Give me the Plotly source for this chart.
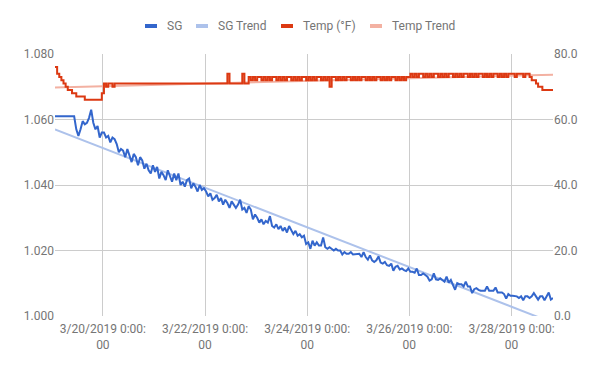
import pandas as pd
import plotly.graph_objects as go

# ---------------- data ----------------
start_time = "2019-03-19 01:30"   # first reading, hourly readings after that

sg = [
    1.0610, 1.0610, 1.0610, 1.0610, 1.0610, 1.0610, 1.0610, 1.0610, 1.0610, 1.0610,
    1.0570, 1.0550, 1.0570, 1.0595, 1.0585, 1.0590, 1.0605, 1.0630, 1.0590, 1.0570,
    1.0580, 1.0545, 1.0560,
    1.0560, 1.0545, 1.0550, 1.0530, 1.0545, 1.0540,
    1.0525, 1.0500, 1.0510, 1.0505, 1.0485, 1.0510, 1.0490, 1.0470, 1.0495, 1.0485,
    1.0460, 1.0485, 1.0475, 1.0450,
    1.0465, 1.0445, 1.0435, 1.0460, 1.0440, 1.0455, 1.0420, 1.0440, 1.0430, 1.0415,
    1.0445, 1.0425, 1.0410, 1.0435,
    1.0415, 1.0435, 1.0400, 1.0410, 1.0395, 1.0415, 1.0420, 1.0390, 1.0405, 1.0395,
    1.0380, 1.0400, 1.0385, 1.0390,
    1.0380, 1.0365, 1.0375, 1.0355, 1.0360, 1.0370, 1.0350, 1.0360, 1.0340, 1.0355,
    1.0345, 1.0330, 1.0350, 1.0340, 1.0330, 1.0340,
    1.0355, 1.0325, 1.0330, 1.0315, 1.0335, 1.0325, 1.0295, 1.0310, 1.0300, 1.0285,
    1.0295, 1.0280, 1.0290, 1.0285, 1.0305, 1.0275,
    1.0270, 1.0280, 1.0265, 1.0275, 1.0260, 1.0270, 1.0255, 1.0275, 1.0260, 1.0250,
    1.0260, 1.0245, 1.0250, 1.0240, 1.0245, 1.0220, 1.0225, 1.0205, 1.0230, 1.0215,
    1.0225, 1.0215, 1.0215, 1.0240, 1.0210, 1.0205, 1.0210, 1.0205, 1.0200, 1.0205,
    1.0200, 1.0200, 1.0188, 1.0195, 1.0190, 1.0190, 1.0195, 1.0188,
    1.0188, 1.0188, 1.0190, 1.0180, 1.0195, 1.0180, 1.0172, 1.0185, 1.0170,
    1.0165, 1.0170, 1.0182, 1.0163, 1.0160, 1.0165, 1.0155, 1.0153, 1.0160, 1.0138,
    1.0150, 1.0153, 1.0142, 1.0145, 1.0140, 1.0137, 1.0145, 1.0135, 1.0135, 1.0132,
    1.0145, 1.0125, 1.0125, 1.0130, 1.0125, 1.0120, 1.0108, 1.0112, 1.0130, 1.0112,
    1.0110, 1.0115, 1.0110, 1.0105, 1.0120, 1.0102, 1.0110, 1.0095, 1.0080, 1.0100,
    1.0097, 1.0097, 1.0090, 1.0105, 1.0090, 1.0090, 1.0070, 1.0082, 1.0085, 1.0080,
    1.0077, 1.0077, 1.0077, 1.0090, 1.0077, 1.0077, 1.0077, 1.0087, 1.0072, 1.0072,
    1.0072, 1.0067, 1.0053, 1.0067, 1.0062, 1.0062, 1.0060, 1.0060, 1.0055, 1.0060,
    1.0048, 1.0060, 1.0060, 1.0055, 1.0060, 1.0070, 1.0060, 1.0050, 1.0060, 1.0060,
    1.0048, 1.0060, 1.0072, 1.0050, 1.0055,
]

temp = [
    76, 74, 73, 72, 71, 70, 69, 69, 68, 68,
    67, 67, 67, 67, 66, 66, 66, 66, 66, 66,
    66, 66, 68, 71, 70, 71, 71, 70, 71,
    71, 71, 71, 71, 71, 71, 71, 71, 71, 71,
    71, 71, 71, 71, 71, 71, 71, 71, 71, 71,
    71, 71, 71, 71, 71, 71, 71, 71, 71, 71,
    71, 71, 71, 71, 71, 71, 71, 71, 71, 71,
    71, 71, 71, 71, 71, 71, 71, 71, 71, 71,
    71, 71,
    74,
    71, 71, 71, 71, 71, 71,
    74,
    71, 71,
    73, 72, 73, 72, 73, 73, 72,
    73, 72, 73, 72, 73, 73, 72,
    73, 72, 73, 72, 73, 73, 72,
    73, 72, 73, 72, 73, 73, 72,
    73, 72, 73, 72, 73, 73, 72,
    73, 72, 73, 70, 73, 73, 72,
    73, 72, 73, 72, 73, 73, 72,
    73, 72, 73, 72, 73, 73, 72,
    73, 72, 73, 72, 73, 73, 72,
    73, 72, 73, 72, 73, 73, 72,
    73, 72, 73, 72, 73, 73,
    74, 73, 74, 73, 74, 74, 73,
    74, 73, 74, 73, 74, 74, 73,
    74, 73, 74, 73, 74, 74, 73,
    74, 73, 74, 73, 74, 74, 73,
    74, 73, 74, 73, 74, 74, 73,
    74, 73, 74, 73, 74, 74, 73,
    74, 73, 74, 73, 74, 74,
    74, 73, 74, 74, 74, 73, 74, 74,
    73, 72, 72, 71, 70, 70,
    69, 69, 69, 69, 69, 69,
]

sg_trend = [1.0570, 0.9979]      # trend line value at first and last reading
temp_trend = [69.8, 73.7]

tick_dates = ["2019-03-20", "2019-03-22", "2019-03-24", "2019-03-26", "2019-03-28"]
tick_labels = ["3/20/2019 0:00:<br>00", "3/22/2019 0:00:<br>00", "3/24/2019 0:00:<br>00",
               "3/26/2019 0:00:<br>00", "3/28/2019 0:00:<br>00"]
sg_ticks = [1.000, 1.020, 1.040, 1.060, 1.080]
temp_ticks = [0, 20, 40, 60, 80]

series_names = ["SG", "SG Trend", "Temp (°F)", "Temp Trend"]
series_colors = ["#3366cc", "#adc2eb", "#dc3912", "#f3b1a2"]

# ---------------- figure ----------------
times = pd.date_range(start_time, periods=len(sg), freq="h")
trend_x = [times[0], times[-1]]

fig = go.Figure()
fig.add_trace(go.Scatter(x=trend_x, y=sg_trend, mode="lines", name=series_names[1],
                         line=dict(color=series_colors[1], width=2), yaxis="y"))
fig.add_trace(go.Scatter(x=times, y=sg, mode="lines", name=series_names[0],
                         line=dict(color=series_colors[0], width=2), yaxis="y"))
fig.add_trace(go.Scatter(x=trend_x, y=temp_trend, mode="lines", name=series_names[3],
                         line=dict(color=series_colors[3], width=2), yaxis="y2"))
fig.add_trace(go.Scatter(x=times, y=temp, mode="lines", name=series_names[2],
                         line=dict(color=series_colors[2], width=2, shape="hv"), yaxis="y2"))

FONT = "Roboto, Arial, sans-serif"
GRAY = "#757575"

# the page body has an 8px margin; place the figure so the plot lands where it should
OFF = 8
W, H = 584, 355
PLOT_L, PLOT_R, PLOT_T, PLOT_B = 55, 553, 54, 316     # page pixels of the plot area
L = PLOT_L - OFF
R = (W + OFF) - PLOT_R
T = PLOT_T - OFF
B = (H + OFF) - PLOT_B
pw, ph = W - L - R, H - T - B


def px_x(px):
    return (px - OFF - L) / pw


def px_y(py):
    return (H - B - (py - OFF)) / ph


# custom legend (Google-Charts style short swatches)
legend_swatch_x = [145, 196, 281, 370]
shapes = []
annotations = []
for name, color, sx in zip(series_names, series_colors, legend_swatch_x):
    shapes.append(dict(type="rect", xref="paper", yref="paper",
                       x0=px_x(sx), x1=px_x(sx + 12), y0=px_y(28), y1=px_y(24),
                       fillcolor=color, line=dict(width=0)))
    annotations.append(dict(text=name, xref="paper", yref="paper", x=px_x(sx + 20), y=px_y(26),
                            xanchor="left", yanchor="middle", showarrow=False,
                            font=dict(family=FONT, size=12, color=GRAY)))

fig.update_layout(
    width=W, height=H,
    margin=dict(l=L, r=R, t=T, b=B, pad=0),
    paper_bgcolor="white", plot_bgcolor="white",
    showlegend=False,
    font=dict(family=FONT, size=12, color=GRAY),
    shapes=shapes, annotations=annotations,
    xaxis=dict(type="date", range=[times[0], times[-1]],
               tickmode="array", tickvals=tick_dates, ticktext=tick_labels,
               showgrid=True, gridcolor="#cccccc", gridwidth=1,
               zeroline=False, showline=False, ticks="", automargin=False,
               ticklabelstandoff=4,
               tickfont=dict(family=FONT, size=12, color=GRAY)),
    yaxis=dict(range=[1.0, 1.08], tickmode="array", tickvals=sg_ticks,
               tickformat=".3f", showgrid=True, gridcolor="#cccccc", gridwidth=1,
               zeroline=False, showline=False, ticks="", automargin=False,
               tickfont=dict(family=FONT, size=12, color=GRAY)),
    yaxis2=dict(range=[0, 80], tickmode="array", tickvals=temp_ticks,
                tickformat=".1f", overlaying="y", side="right",
                showgrid=False, zeroline=False, showline=False, ticks="", automargin=False,
                tickfont=dict(family=FONT, size=12, color=GRAY)),
)

fig.write_html("out.html")
